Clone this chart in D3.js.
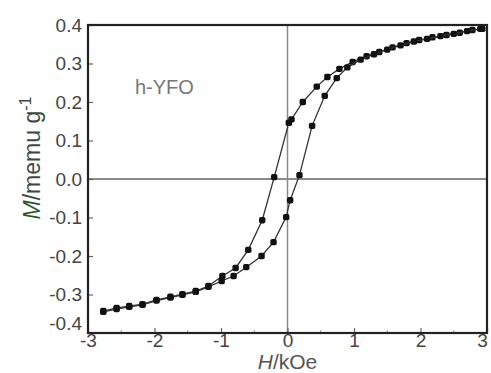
<!DOCTYPE html>
<html><head><meta charset="utf-8">
<script src="https://cdn.jsdelivr.net/npm/d3@7"></script>
<style>body{margin:0;background:#fff}svg{display:block}</style>
</head><body>
<svg id="c" width="491" height="373"></svg>
<script>
// Descending branch (H from +3 to -3)
const descH = [2.93, 2.78, 2.59, 2.39, 2.18, 1.98, 1.79, 1.58, 1.38, 1.19, 0.98, 0.78, 0.6, 0.44, 0.23, 0.06, 0.02, -0.2, -0.38, -0.59, -0.78, -0.98, -1.19, -1.38, -1.58, -1.76, -1.97, -2.18, -2.38, -2.57, -2.77];
const descM = [0.39, 0.387, 0.38, 0.374, 0.368, 0.361, 0.353, 0.342, 0.33, 0.319, 0.304, 0.286, 0.265, 0.24, 0.2, 0.155, 0.146, 0.005, -0.107, -0.184, -0.231, -0.252, -0.278, -0.291, -0.299, -0.306, -0.314, -0.325, -0.33, -0.335, -0.343];
// Ascending branch (H from -3 to +3)
const ascH = [-2.77, -2.57, -2.38, -2.18, -1.97, -1.76, -1.58, -1.38, -1.19, -0.99, -0.81, -0.62, -0.39, -0.21, -0.02, 0.04, 0.18, 0.37, 0.56, 0.74, 0.9, 1.1, 1.3, 1.5, 1.7, 1.9, 2.1, 2.3, 2.5, 2.7, 2.9];
const ascM = [-0.345, -0.338, -0.332, -0.327, -0.316, -0.308, -0.301, -0.293, -0.28, -0.265, -0.252, -0.229, -0.2, -0.164, -0.099, -0.055, 0.01, 0.138, 0.216, 0.262, 0.29, 0.31, 0.324, 0.336, 0.347, 0.357, 0.364, 0.371, 0.377, 0.384, 0.39];
const xTicks = [-3, -2, -1, 0, 1, 2, 3];
const yTicks = [0.4, 0.3, 0.2, 0.1, 0.0, -0.1, -0.2, -0.3, -0.4];
const sampleLabel = "h-YFO";

const svg = d3.select("#c");
const L = 88, R = 487, T = 25, B = 333;
const x = d3.scaleLinear().domain([-3, 3]).range([L, R]);
const y = d3.scaleLinear().domain([-0.4, 0.4]).range([B, T]);
const font = "'Liberation Sans', Arial, sans-serif";
const hy = s => s.replace("\u2212", "-");

// zero lines
svg.append("line").attr("x1", x(0)).attr("x2", x(0)).attr("y1", T).attr("y2", B)
  .attr("stroke", "#8a8a8a").attr("stroke-width", 1.5);
svg.append("line").attr("x1", L).attr("x2", R).attr("y1", y(0)).attr("y2", y(0))
  .attr("stroke", "#8a8a8a").attr("stroke-width", 2);

// x axis (inward ticks)
const xAxis = d3.axisBottom(x).tickValues(xTicks).tickSize(-5).tickFormat(d => hy(String(d)));
const gx = svg.append("g").attr("transform", `translate(0,${B})`).call(xAxis);
gx.select(".domain").remove();
gx.selectAll("line").attr("stroke", "#666").attr("stroke-width", 1.2);
gx.selectAll("text").attr("font-family", font).attr("font-size", 19).attr("fill", "#444")
  .attr("dy", null).attr("y", 14);
gx.selectAll(".tick").filter(d => d === 3).select("text").attr("x", -5);
const xMinor = d3.range(-2.5, 3, 1);
svg.append("g").selectAll("line").data(xMinor).join("line")
  .attr("x1", d => x(d)).attr("x2", d => x(d)).attr("y1", B).attr("y2", B - 3)
  .attr("stroke", "#999").attr("stroke-width", 1);

// y axis
const yAxis = d3.axisLeft(y).tickValues(yTicks).tickSize(-5).tickFormat(d => hy(d3.format(".1f")(d)));
const gy = svg.append("g").attr("transform", `translate(${L},0)`).call(yAxis);
gy.select(".domain").remove();
gy.selectAll("line").attr("stroke", "#666").attr("stroke-width", 1.2);
gy.selectAll("text").attr("font-family", font).attr("font-size", 19).attr("fill", "#444")
  .attr("x", -6);
gy.selectAll(".tick").filter(d => d === -0.4).select("text").attr("dy", "-0.2em");

// frame
svg.append("rect").attr("x", L).attr("y", T).attr("width", R - L).attr("height", B - T)
  .attr("fill", "none").attr("stroke", "#222").attr("stroke-width", 2.2);

// curves
const line = d3.line().x(d => x(d[0])).y(d => y(d[1]));
const desc = descH.map((h, i) => [h, descM[i]]);
const asc = ascH.map((h, i) => [h, ascM[i]]);
[desc, asc].forEach(data => {
  svg.append("path").datum(data).attr("d", line).attr("fill", "none")
    .attr("stroke", "#333").attr("stroke-width", 1.3);
  svg.append("g").selectAll("rect").data(data).join("rect")
    .attr("x", d => x(d[0]) - 3.2).attr("y", d => y(d[1]) - 3.2)
    .attr("width", 6.4).attr("height", 6.4).attr("rx", 1.8)
    .attr("fill", "#111");
});

// sample label
svg.append("text").attr("x", 135).attr("y", 94).attr("font-family", font)
  .attr("font-size", 20).attr("fill", "#777").text(sampleLabel);

// x label
const xl = svg.append("text").attr("x", x(0)).attr("y", 369).attr("text-anchor", "middle")
  .attr("font-family", font).attr("font-size", 21).attr("fill", "#555");
xl.append("tspan").attr("font-style", "italic").text("H");
xl.append("tspan").text("/kOe");

// y label
const yl = svg.append("text").attr("transform", "translate(40,158) rotate(-90)")
  .attr("text-anchor", "middle").attr("font-family", font).attr("font-size", 23).attr("fill", "#3d4a3d");
yl.append("tspan").attr("font-style", "italic").attr("fill", "#2f5a2f").text("M");
yl.append("tspan").text("/memu g");
yl.append("tspan").attr("dy", -9).attr("font-size", 16).text("-1");
</script>
</body></html>
